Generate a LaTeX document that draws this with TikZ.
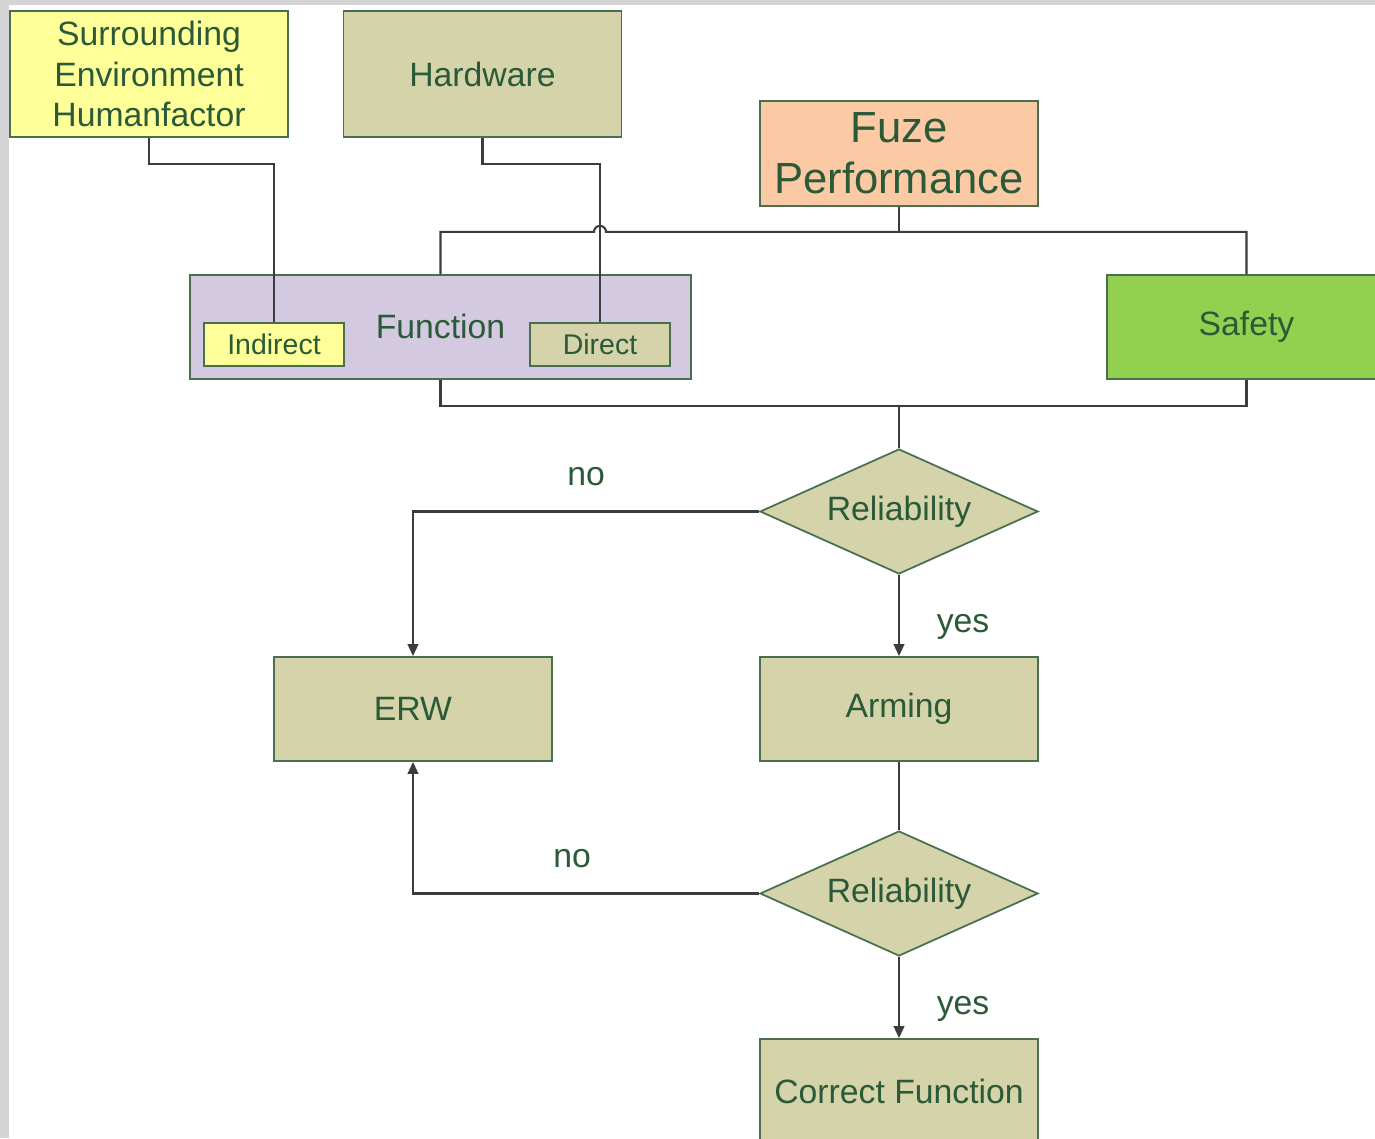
\documentclass[tikz,border=0pt]{standalone}
\usepackage{fontspec}
\setmainfont{Liberation Sans}
\usetikzlibrary{calc,arrows.meta,positioning,shapes.geometric}

\definecolor{frame}{HTML}{D4D4D4}
\definecolor{edgegreen}{HTML}{4A6F50}
\definecolor{txtgreen}{HTML}{2B5A38}
\definecolor{wirecol}{HTML}{3C3C3C}
\definecolor{paleyellow}{HTML}{FFFF99}
\definecolor{khaki}{HTML}{D4D3A9}
\definecolor{lilac}{HTML}{D3C9E0}
\definecolor{peach}{HTML}{FBCAA4}
\definecolor{leafgreen}{HTML}{92D050}

\tikzset{
	box/.style={draw=edgegreen, line width=0.5pt, text=txtgreen, align=center,
		minimum width=2.78cm, minimum height=1.04cm, inner sep=0pt,
		font=\fontsize{9.6}{11.6}\selectfont},
	smallbox/.style={box, minimum width=1.40cm, minimum height=0.43cm,
		font=\fontsize{8.1}{9.7}\selectfont},
	decision/.style={box, diamond, aspect=2.22, fill=khaki,
		minimum width=2.78cm, minimum height=1.25cm},
	wire/.style={draw=wirecol, line width=0.6pt},
	arrowwire/.style={wire, -{Triangle[length=3.4pt,width=3pt]}},
	flowlabel/.style={text=txtgreen, font=\fontsize{9.6}{11.6}\selectfont},
}

\begin{document}
\begin{tikzpicture}
	%% page size and grey frame of the screenshot
	\useasboundingbox (0,0) rectangle (13.75,-11.38);
	\fill[frame] (0,0) rectangle (13.75,-11.38);
	\fill[white] (0.09,-0.05) rectangle (13.75,-11.38);

	%% top row
	\node[box, fill=paleyellow, minimum height=1.26cm] (env) at (1.49,-0.74)
		{Surrounding\\Environment\\Humanfactor};
	\node[box, fill=khaki, minimum height=1.26cm] (hw) at (4.825,-0.74) {Hardware};
	\node[box, fill=peach, minimum height=1.05cm,
		font=\fontsize{12.4}{14.6}\selectfont] (fuze) at (8.99,-1.535)
		{Fuze\\Performance};

	%% second row
	\node[box, fill=lilac, minimum width=5.01cm, minimum height=1.04cm]
		(func) at (4.405,-3.27) {};
	\node[text=txtgreen, font=\fontsize{9.6}{11.6}\selectfont]
		(functxt) at (4.405,-3.26) {Function};
	\node[smallbox, fill=paleyellow] (indirect) at (2.74,-3.445) {Indirect};
	\node[smallbox, fill=khaki] (direct) at (6.00,-3.445) {Direct};
	\node[box, fill=leafgreen, minimum width=2.79cm] (safety) at (12.465,-3.27) {Safety};

	%% decisions
	\node[decision] (rel1) at (8.99,-5.115) {Reliability};
	\node[box, fill=khaki] (erw) at (4.13,-7.09) {ERW};
	\node[box, fill=khaki] (arming) at (8.99,-7.09) {Arming};
	\node[decision] (rel2) at (8.99,-8.935) {Reliability};
	\node[box, fill=khaki] (correct) at (8.99,-10.91) {Correct Function};

	%% inputs to function
	\draw[wire] (env.south) -- ++(0,-0.26) -| (indirect.north);
	\draw[wire] (hw.south) -- ++(0,-0.26) -| (direct.north);

	%% top bus (with a jump over the hardware line)
	\draw[wire] (fuze.south) -- ++(0,-0.25) coordinate (topbus);
	\draw[wire] (func.north) |- ($(direct.north |- topbus)+(-0.06,0)$)
		arc[start angle=180, end angle=0, radius=0.06] -| (safety.north);

	%% bottom bus
	\draw[wire] (func.south) -- ++(0,-0.26) coordinate (botbus) -| (safety.south);
	\draw[wire] (botbus -| rel1.north) -- (rel1.north);

	%% flow
	\draw[arrowwire] (rel1.west) -| (erw.north)
		node[flowlabel, pos=0.25, yshift=0.35cm] {no};
	\draw[arrowwire] (rel1.south) -- (arming.north)
		node[flowlabel, midway, right, xshift=0.25cm, yshift=-0.11cm] {yes};
	\draw[wire] (arming.south) -- (rel2.north);
	\draw[arrowwire] (rel2.west) -| (erw.south)
		node[flowlabel, pos=0.27, yshift=0.35cm] {no};
	\draw[arrowwire] (rel2.south) -- (correct.north)
		node[flowlabel, midway, right, xshift=0.25cm, yshift=-0.11cm] {yes};
\end{tikzpicture}
\end{document}
